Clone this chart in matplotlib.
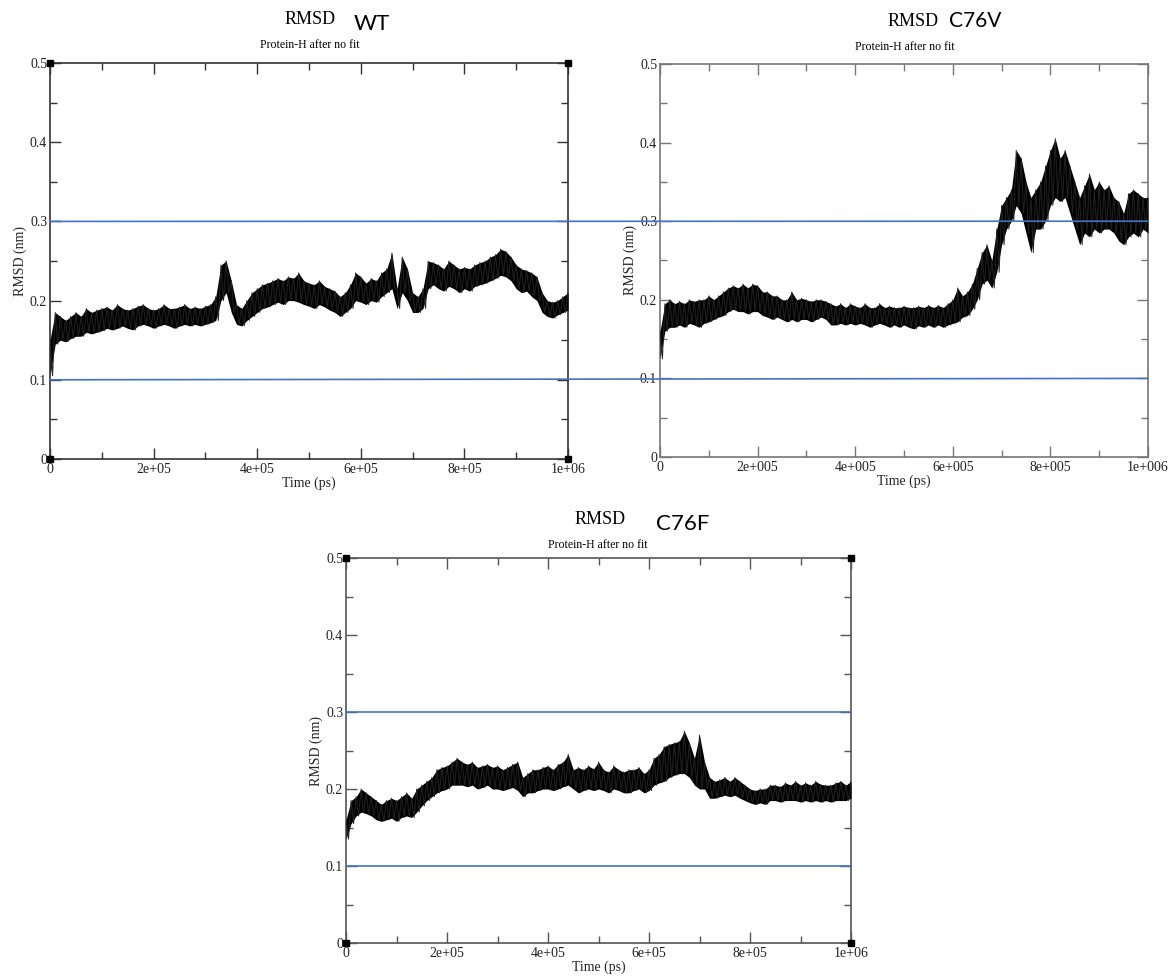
import numpy as np
import matplotlib
matplotlib.use("Agg")
import matplotlib.pyplot as plt
from matplotlib.patches import ConnectionPatch

# ---------------- data ----------------
time_ps = np.arange(0, 1_000_001, 10_000)  # sampling grid (ps)

wt_lower = [0.105, 0.145, 0.150, 0.148, 0.152, 0.155, 0.155, 0.160, 0.158, 0.160,
            0.162, 0.165, 0.163, 0.165, 0.168, 0.165, 0.163, 0.168, 0.170, 0.168,
            0.165, 0.168, 0.170, 0.168, 0.165, 0.168, 0.170, 0.168, 0.170, 0.168,
            0.170, 0.172, 0.175, 0.200, 0.210, 0.185, 0.170, 0.168, 0.175, 0.180,
            0.185, 0.190, 0.192, 0.195, 0.198, 0.195, 0.200, 0.200, 0.198, 0.195,
            0.193, 0.190, 0.195, 0.192, 0.188, 0.185, 0.180, 0.185, 0.190, 0.200,
            0.198, 0.195, 0.200, 0.198, 0.205, 0.210, 0.215, 0.190, 0.210, 0.200,
            0.185, 0.185, 0.190, 0.215, 0.220, 0.215, 0.212, 0.218, 0.215, 0.210,
            0.215, 0.212, 0.218, 0.220, 0.222, 0.225, 0.228, 0.232, 0.230, 0.225,
            0.215, 0.210, 0.212, 0.205, 0.200, 0.185, 0.180, 0.178, 0.182, 0.185,
            0.188]
wt_upper = [0.150, 0.185, 0.180, 0.175, 0.180, 0.185, 0.180, 0.190, 0.185, 0.188,
            0.190, 0.192, 0.188, 0.195, 0.190, 0.188, 0.190, 0.193, 0.195, 0.190,
            0.188, 0.190, 0.195, 0.190, 0.190, 0.192, 0.195, 0.190, 0.192, 0.190,
            0.193, 0.195, 0.205, 0.245, 0.250, 0.225, 0.195, 0.190, 0.200, 0.210,
            0.215, 0.220, 0.222, 0.225, 0.228, 0.225, 0.230, 0.228, 0.235, 0.225,
            0.222, 0.220, 0.225, 0.218, 0.215, 0.212, 0.205, 0.210, 0.220, 0.235,
            0.230, 0.222, 0.228, 0.225, 0.235, 0.240, 0.260, 0.215, 0.255, 0.240,
            0.210, 0.205, 0.215, 0.250, 0.248, 0.245, 0.240, 0.250, 0.245, 0.240,
            0.242, 0.240, 0.245, 0.248, 0.250, 0.255, 0.258, 0.265, 0.262, 0.255,
            0.245, 0.240, 0.238, 0.235, 0.230, 0.210, 0.200, 0.198, 0.200, 0.205,
            0.210]

c76v_lower = [0.125, 0.160, 0.165, 0.165, 0.168, 0.165, 0.170, 0.168, 0.165, 0.170,
              0.172, 0.175, 0.178, 0.180, 0.185, 0.188, 0.185, 0.185, 0.182, 0.185,
              0.185, 0.180, 0.178, 0.175, 0.178, 0.175, 0.172, 0.175, 0.172, 0.175,
              0.175, 0.172, 0.175, 0.178, 0.175, 0.168, 0.168, 0.170, 0.168, 0.170,
              0.168, 0.170, 0.168, 0.165, 0.168, 0.170, 0.168, 0.165, 0.168, 0.165,
              0.168, 0.165, 0.163, 0.167, 0.165, 0.168, 0.165, 0.168, 0.165, 0.168,
              0.170, 0.172, 0.178, 0.180, 0.188, 0.200, 0.220, 0.225, 0.215, 0.235,
              0.270, 0.290, 0.300, 0.320, 0.310, 0.285, 0.260, 0.290, 0.290, 0.300,
              0.320, 0.330, 0.325, 0.330, 0.310, 0.290, 0.270, 0.285, 0.280, 0.290,
              0.285, 0.290, 0.290, 0.285, 0.275, 0.270, 0.280, 0.285, 0.280, 0.290,
              0.285]
c76v_upper = [0.160, 0.195, 0.200, 0.195, 0.198, 0.195, 0.200, 0.198, 0.200, 0.200,
              0.205, 0.200, 0.205, 0.210, 0.215, 0.218, 0.215, 0.220, 0.215, 0.220,
              0.218, 0.210, 0.210, 0.205, 0.205, 0.200, 0.200, 0.210, 0.200, 0.202,
              0.200, 0.198, 0.200, 0.200, 0.198, 0.195, 0.192, 0.195, 0.190, 0.195,
              0.192, 0.190, 0.195, 0.190, 0.190, 0.195, 0.190, 0.192, 0.190, 0.190,
              0.192, 0.190, 0.190, 0.192, 0.190, 0.193, 0.190, 0.193, 0.190, 0.195,
              0.200, 0.215, 0.205, 0.210, 0.220, 0.240, 0.260, 0.270, 0.250, 0.290,
              0.320, 0.330, 0.340, 0.390, 0.380, 0.350, 0.330, 0.340, 0.350, 0.370,
              0.390, 0.405, 0.380, 0.390, 0.370, 0.350, 0.330, 0.345, 0.360, 0.340,
              0.350, 0.340, 0.345, 0.330, 0.325, 0.310, 0.335, 0.340, 0.335, 0.330,
              0.330]

c76f_lower = [0.135, 0.155, 0.165, 0.170, 0.168, 0.165, 0.160, 0.158, 0.160, 0.162,
              0.158, 0.163, 0.165, 0.163, 0.170, 0.178, 0.185, 0.190, 0.195, 0.198,
              0.200, 0.205, 0.205, 0.205, 0.203, 0.205, 0.200, 0.202, 0.205, 0.200,
              0.200, 0.198, 0.200, 0.202, 0.198, 0.190, 0.195, 0.195, 0.198, 0.200,
              0.200, 0.198, 0.200, 0.203, 0.205, 0.200, 0.195, 0.198, 0.200, 0.198,
              0.200, 0.198, 0.195, 0.200, 0.198, 0.195, 0.195, 0.198, 0.200, 0.195,
              0.198, 0.205, 0.208, 0.210, 0.215, 0.218, 0.220, 0.220, 0.215, 0.205,
              0.200, 0.200, 0.188, 0.188, 0.190, 0.192, 0.190, 0.192, 0.188, 0.185,
              0.182, 0.180, 0.182, 0.180, 0.185, 0.185, 0.183, 0.185, 0.185, 0.185,
              0.183, 0.185, 0.183, 0.185, 0.183, 0.185, 0.183, 0.185, 0.185, 0.185,
              0.188]
c76f_upper = [0.160, 0.185, 0.190, 0.200, 0.195, 0.190, 0.185, 0.180, 0.185, 0.188,
              0.185, 0.190, 0.195, 0.188, 0.200, 0.205, 0.210, 0.215, 0.225, 0.228,
              0.230, 0.235, 0.240, 0.235, 0.232, 0.235, 0.228, 0.230, 0.232, 0.228,
              0.230, 0.225, 0.228, 0.232, 0.235, 0.215, 0.220, 0.225, 0.225, 0.228,
              0.230, 0.225, 0.232, 0.235, 0.245, 0.225, 0.228, 0.225, 0.230, 0.226,
              0.235, 0.225, 0.222, 0.230, 0.225, 0.222, 0.225, 0.225, 0.228, 0.220,
              0.225, 0.240, 0.245, 0.255, 0.258, 0.260, 0.262, 0.275, 0.260, 0.240,
              0.270, 0.235, 0.215, 0.210, 0.212, 0.215, 0.210, 0.215, 0.210, 0.205,
              0.200, 0.198, 0.200, 0.200, 0.205, 0.205, 0.203, 0.208, 0.205, 0.210,
              0.205, 0.208, 0.205, 0.210, 0.206, 0.205, 0.205, 0.208, 0.210, 0.205,
              0.210]

thresholds = [0.1, 0.3]
x_ticks = [0, 200_000, 400_000, 600_000, 800_000, 1_000_000]
x_labels_short = ['0', '2e+05', '4e+05', '6e+05', '8e+05', '1e+06']
x_labels_long = ['0', '2e+005', '4e+005', '6e+005', '8e+005', '1e+006']
y_ticks = [0, 0.1, 0.2, 0.3, 0.4, 0.5]
y_labels = ['0', '0.1', '0.2', '0.3', '0.4', '0.5']
titles = ['WT', 'C76V', 'C76F']

# ---------------- figure ----------------
W, H = 1171, 980
fig = plt.figure(figsize=(W / 100, H / 100), dpi=100)
SERIF = ['Liberation Serif', 'DejaVu Serif']
SANS = ['Lato', 'DejaVu Sans']
BLUE = '#4472C4'


def px_axes(l, t, r, b):
    return fig.add_axes([l / W, 1 - b / H, (r - l) / W, (b - t) / H])


def style_axes(ax, xlabels, spine_col, corners):
    ax.set_xlim(0, 1_000_000)
    ax.set_ylim(0, 0.5)
    ax.set_xticks(x_ticks)
    ax.set_xticklabels(xlabels, fontfamily=SERIF, fontsize=10)
    ax.set_yticks(y_ticks)
    ax.set_yticklabels(y_labels, fontfamily=SERIF, fontsize=10)
    ax.set_xticks(np.arange(100_000, 1_000_000, 200_000), minor=True)
    ax.set_yticks([0.05, 0.15, 0.25, 0.35, 0.45], minor=True)
    ax.tick_params(which='both', direction='in', top=True, right=True,
                   color=spine_col, width=1.0)
    ax.tick_params(which='major', length=8, pad=2, labelcolor='#222')
    ax.tick_params(which='minor', length=5)
    ax.tick_params(axis='x', which='major', pad=3)
    for s in ax.spines.values():
        s.set_color(spine_col)
        s.set_linewidth(1.2)
    ax.set_xlabel('Time (ps)', fontfamily=SERIF, fontsize=10, labelpad=0, color='#222')
    ax.set_ylabel('RMSD (nm)', fontfamily=SERIF, fontsize=10, labelpad=2, color='#222')
    if corners:
        ax.plot([0, 1, 0, 1], [0, 0, 1, 1], 's', color='black', ms=4,
                transform=ax.transAxes, clip_on=False, zorder=5)


def draw_trace(ax, lower, upper):
    lo = np.array(lower)
    up = np.array(upper)
    ax.fill_between(time_ps, lo, up, color='black', lw=0, zorder=3)
    # jagged edge: trace jumping between the high and low readings
    n = len(time_ps)
    xs = np.empty(2 * n - 1)
    ys = np.empty_like(xs)
    xs[0::2] = time_ps
    xs[1::2] = time_ps[:-1] + 5000
    ys[0::2] = up
    ys[1::2] = lo[:-1]
    ax.plot(xs, ys, color='#222222', lw=0.7, zorder=3)


ax_wt = px_axes(50, 63, 568, 459)
ax_v = px_axes(660, 64, 1148, 457)
ax_f = px_axes(346, 558, 851, 943)

style_axes(ax_wt, x_labels_short, '#333333', True)
style_axes(ax_v, x_labels_long, '#777777', False)
style_axes(ax_f, x_labels_short, '#555555', True)

draw_trace(ax_wt, wt_lower, wt_upper)
draw_trace(ax_v, c76v_lower, c76v_upper)
draw_trace(ax_f, c76f_lower, c76f_upper)

# threshold lines: across the two top panels, and inside the bottom panel
for th in thresholds:
    con = ConnectionPatch(xyA=(0, th), coordsA=ax_wt.transData,
                          xyB=(1_000_000, th), coordsB=ax_v.transData,
                          color=BLUE, lw=1.2, zorder=10)
    fig.add_artist(con)
    ax_f.plot([0, 1_000_000], [th, th], color=BLUE, lw=1.2, zorder=4)


def fig_text(x, y, s, **kw):
    fig.text(x / W, 1 - y / H, s, ha='center', va='center', **kw)


# titles
fig_text(310, 20, 'RMSD', fontfamily=SERIF, fontsize=13)
fig_text(372, 24, titles[0], fontfamily=SANS, fontsize=16)
fig_text(310, 45, 'Protein-H after no fit', fontfamily=SERIF, fontsize=8.5)

fig_text(913, 22, 'RMSD', fontfamily=SERIF, fontsize=13)
fig_text(975, 21, titles[1], fontfamily=SANS, fontsize=15)
fig_text(905, 47, 'Protein-H after no fit', fontfamily=SERIF, fontsize=8.5)

fig_text(600, 519, 'RMSD', fontfamily=SERIF, fontsize=13)
fig_text(683, 524, titles[2], fontfamily=SANS, fontsize=16)
fig_text(598, 545, 'Protein-H after no fit', fontfamily=SERIF, fontsize=8.5)

fig.savefig('out.png', dpi=100, facecolor='white')
